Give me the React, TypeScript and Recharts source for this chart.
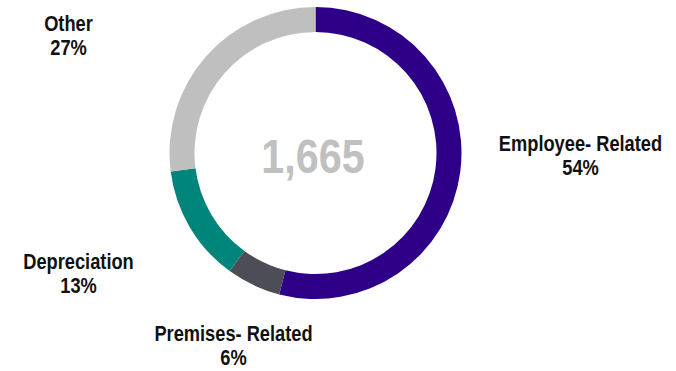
import React from 'react';
import { PieChart, Pie, Cell } from 'recharts';

document.body.style.margin = '0';

const categories = ['Employee- Related', 'Premises- Related', 'Depreciation', 'Other'];
const values = [899, 100, 216, 450];
const colors = ['#2e0087', '#4d4d57', '#00857a', '#bfbfbf'];

// label block placement, relative to the pie centre (first-line baseline)
const labelOffsets: Record<string, [number, number]> = {
  'Employee- Related': [265, -2],
  'Premises- Related': [-82, 188],
  Depreciation: [-237, 116],
  Other: [-247, -122],
};

const total = values.reduce((a, b) => a + b, 0);
const data = categories.map((name, i) => ({ name, value: values[i] }));

// no narrow font installed, so squeeze Liberation Sans horizontally
const FONT = '"Liberation Sans", Arial, sans-serif';
const squeeze = (x: number, k: number) => `translate(${x},0) scale(${k},1) translate(${-x},0)`;

const renderLabel = (props: any) => {
  const { cx, cy, name, percent } = props;
  const [dx, dy] = labelOffsets[name] || [0, 0];
  const x = cx + dx;
  const y = cy + dy;
  return (
    <text
      x={x}
      y={y}
      textAnchor="middle"
      fill="#111"
      fontFamily={FONT}
      fontWeight="bold"
      fontSize={22}
      transform={squeeze(x, 0.83)}
    >
      <tspan x={x} y={y}>{name}</tspan>
      <tspan x={x} y={y + 24}>{`${Math.round(percent * 100)}%`}</tspan>
    </text>
  );
};

export default function App() {
  return (
    <div style={{ width: 676, height: 371, background: '#fff' }}>
      <PieChart width={676} height={371} margin={{ top: 0, right: 0, bottom: 0, left: 0 }}>
        <Pie
          data={data}
          dataKey="value"
          nameKey="name"
          cx={315.5}
          cy={153}
          innerRadius={121}
          outerRadius={146}
          startAngle={90}
          endAngle={-270}
          stroke="none"
          label={renderLabel}
          labelLine={false}
          isAnimationActive={false}
        >
          {data.map((d, i) => (
            <Cell key={d.name} fill={colors[i]} />
          ))}
        </Pie>
        <text
          x={313}
          y={173}
          textAnchor="middle"
          fill="#c0c0c0"
          fontFamily={FONT}
          fontWeight="bold"
          fontSize={48}
          transform={squeeze(313, 0.86)}
        >
          {total.toLocaleString('en-US')}
        </text>
      </PieChart>
    </div>
  );
}
